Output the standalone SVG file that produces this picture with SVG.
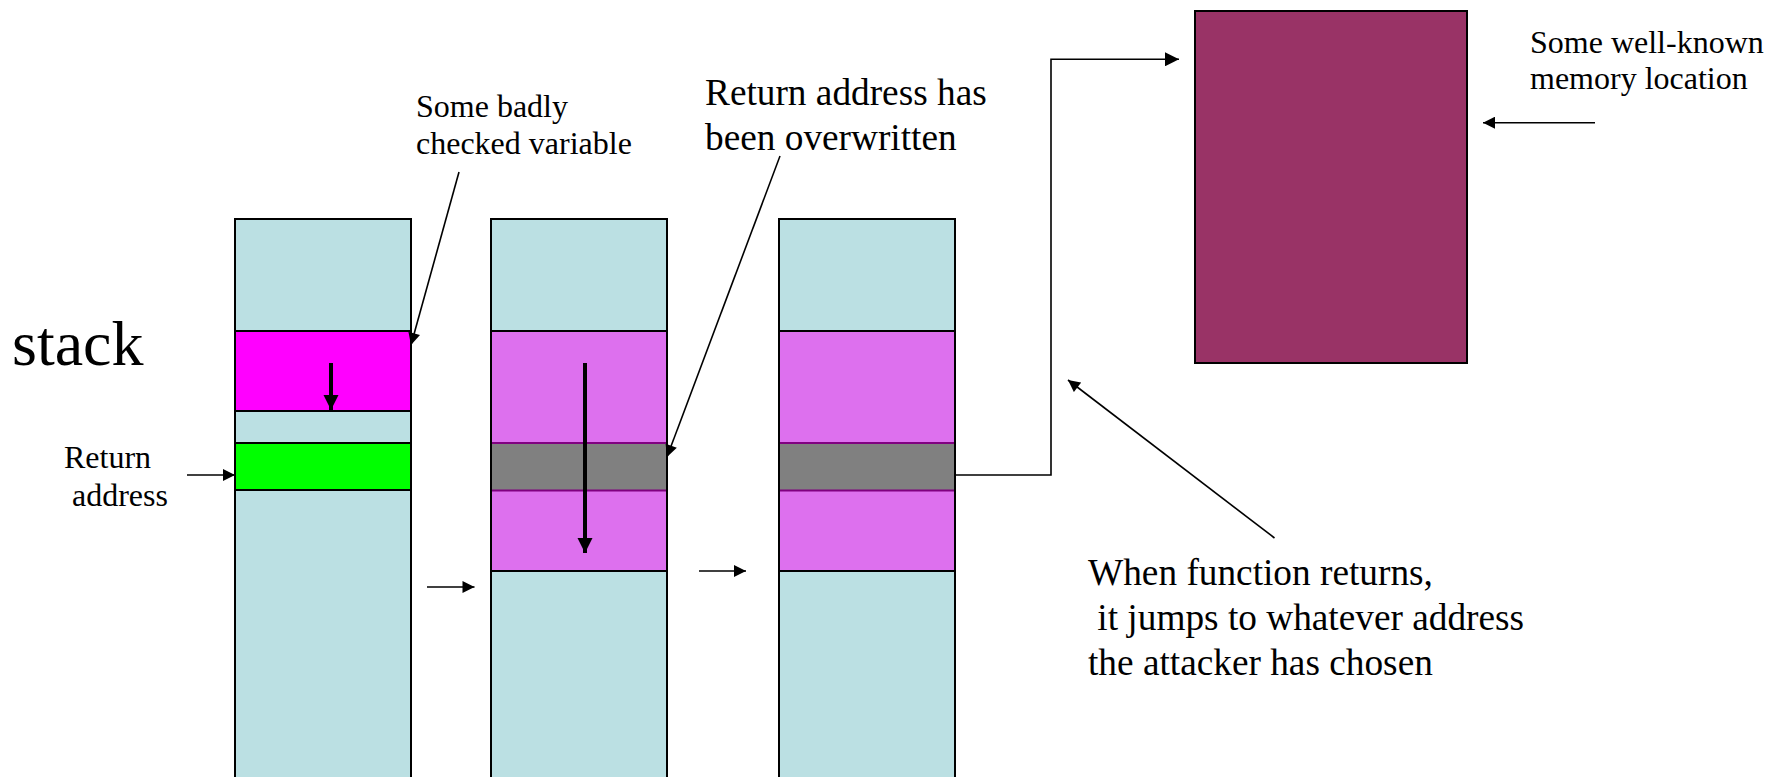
<svg xmlns="http://www.w3.org/2000/svg" width="1767" height="777" viewBox="0 0 1767 777">
  <style>
    text { font-family: "Liberation Serif", "Times New Roman", serif; fill: #000; white-space: pre; }
    .t32 { font-size: 32px; }
    .t37 { font-size: 37.3px; }
    .t64 { font-size: 64px; }
    .blk { stroke: #000; stroke-width: 2; }
    .lb { fill: #BBE0E3; }
    .mg { fill: #FF00FF; }
    .gr { fill: #00FF00; }
    .vi { fill: #DD70EE; }
    .gy { fill: #808080; }
    .ptr { stroke: #000; stroke-width: 1.6; fill: none; }
    .thk { stroke: #000; stroke-width: 4; fill: none; }
  </style>
  <defs>
    <marker id="ah" viewBox="0 0 10 10" refX="10" refY="5" markerUnits="userSpaceOnUse" markerWidth="15" markerHeight="14" orient="auto">
      <path d="M0,0 L10,5 L0,10 z" fill="#000"/>
    </marker>
    <marker id="ahs" viewBox="0 0 10 10" refX="10" refY="5" markerUnits="userSpaceOnUse" markerWidth="13" markerHeight="12" orient="auto">
      <path d="M0,0 L10,5 L0,10 z" fill="#000"/>
    </marker>
    <marker id="ahb" viewBox="0 0 10 10" refX="10" refY="5" markerUnits="userSpaceOnUse" markerWidth="15" markerHeight="16" orient="auto">
      <path d="M0,0 L10,5 L0,10 z" fill="#000"/>
    </marker>
  </defs>

  <!-- Stack column 1 -->
  <g id="stack1">
    <rect class="lb blk" x="235" y="219" width="176" height="580"/>
    <rect class="mg blk" x="235" y="331" width="176" height="80"/>
    <rect class="gr blk" x="235" y="443" width="176" height="47"/>
  </g>

  <!-- Stack column 2 -->
  <g id="stack2">
    <rect class="lb blk" x="491" y="219" width="176" height="580"/>
    <rect class="vi blk" x="491" y="331" width="176" height="240"/>
    <rect class="gy" x="491" y="443" width="176" height="47.5"/>
    <line x1="491" y1="443" x2="667" y2="443" stroke="#800080" stroke-width="2"/>
    <line x1="491" y1="490.5" x2="667" y2="490.5" stroke="#800080" stroke-width="2"/>
    <rect x="491" y="219" width="176" height="580" fill="none" class="blk"/>
  </g>

  <!-- Stack column 3 -->
  <g id="stack3">
    <rect class="lb blk" x="779" y="219" width="176" height="580"/>
    <rect class="vi blk" x="779" y="331" width="176" height="240"/>
    <rect class="gy" x="779" y="443" width="176" height="47.5"/>
    <line x1="779" y1="443" x2="955" y2="443" stroke="#800080" stroke-width="2"/>
    <line x1="779" y1="490.5" x2="955" y2="490.5" stroke="#800080" stroke-width="2"/>
    <rect x="779" y="219" width="176" height="580" fill="none" class="blk"/>
  </g>

  <!-- Memory location -->
  <g id="memory">
    <rect x="1195" y="11" width="272" height="352" fill="#993366" class="blk"/>
  </g>

  <!-- Labels -->
  <g id="label-stack">
    <text class="t64" x="12" y="365">stack</text>
  </g>
  <g id="label-return">
    <text class="t32" x="64" y="468">Return</text>
    <text class="t32" x="64" y="506"> address</text>
  </g>
  <g id="label-badly">
    <text class="t32" x="416" y="117">Some badly</text>
    <text class="t32" x="416" y="154">checked variable</text>
  </g>
  <g id="label-overwritten">
    <text class="t37" x="705" y="105">Return address has</text>
    <text class="t37" x="705" y="150">been overwritten</text>
  </g>
  <g id="label-wellknown">
    <text class="t32" x="1530" y="53">Some well-known</text>
    <text class="t32" x="1530" y="89">memory location</text>
  </g>
  <g id="label-returns">
    <text class="t37" x="1088" y="585">When function returns,</text>
    <text class="t37" x="1088" y="630"> it jumps to whatever address</text>
    <text class="t37" x="1088" y="675">the attacker has chosen</text>
  </g>

  <!-- Connectors -->
  <g id="connectors">
    <line class="ptr" x1="187" y1="475" x2="235" y2="475" marker-end="url(#ahs)"/>
    <line class="ptr" x1="427" y1="587" x2="474.5" y2="587" stroke-width="2.5" marker-end="url(#ahs)"/>
    <line class="ptr" x1="699" y1="571" x2="746" y2="571" stroke-width="2.5" marker-end="url(#ahs)"/>
    <line class="ptr" x1="459" y1="172" x2="411" y2="345" marker-end="url(#ahs)"/>
    <line class="ptr" x1="780" y1="156" x2="667" y2="457" marker-end="url(#ahs)"/>
    <line class="ptr" x1="1274.5" y1="538" x2="1068" y2="380" marker-end="url(#ahs)"/>
    <line class="ptr" x1="1595" y1="122.7" x2="1483" y2="122.7" stroke-width="2.5" marker-end="url(#ahs)"/>
    <polyline class="ptr" points="955,475 1051,475 1051,59.3 1179,59.3" stroke-width="2" marker-end="url(#ah)"/>
    <line class="thk" x1="331" y1="363" x2="331" y2="410" marker-end="url(#ahb)"/>
    <line class="thk" x1="585" y1="363" x2="585" y2="553" marker-end="url(#ahb)"/>
  </g>
</svg>
